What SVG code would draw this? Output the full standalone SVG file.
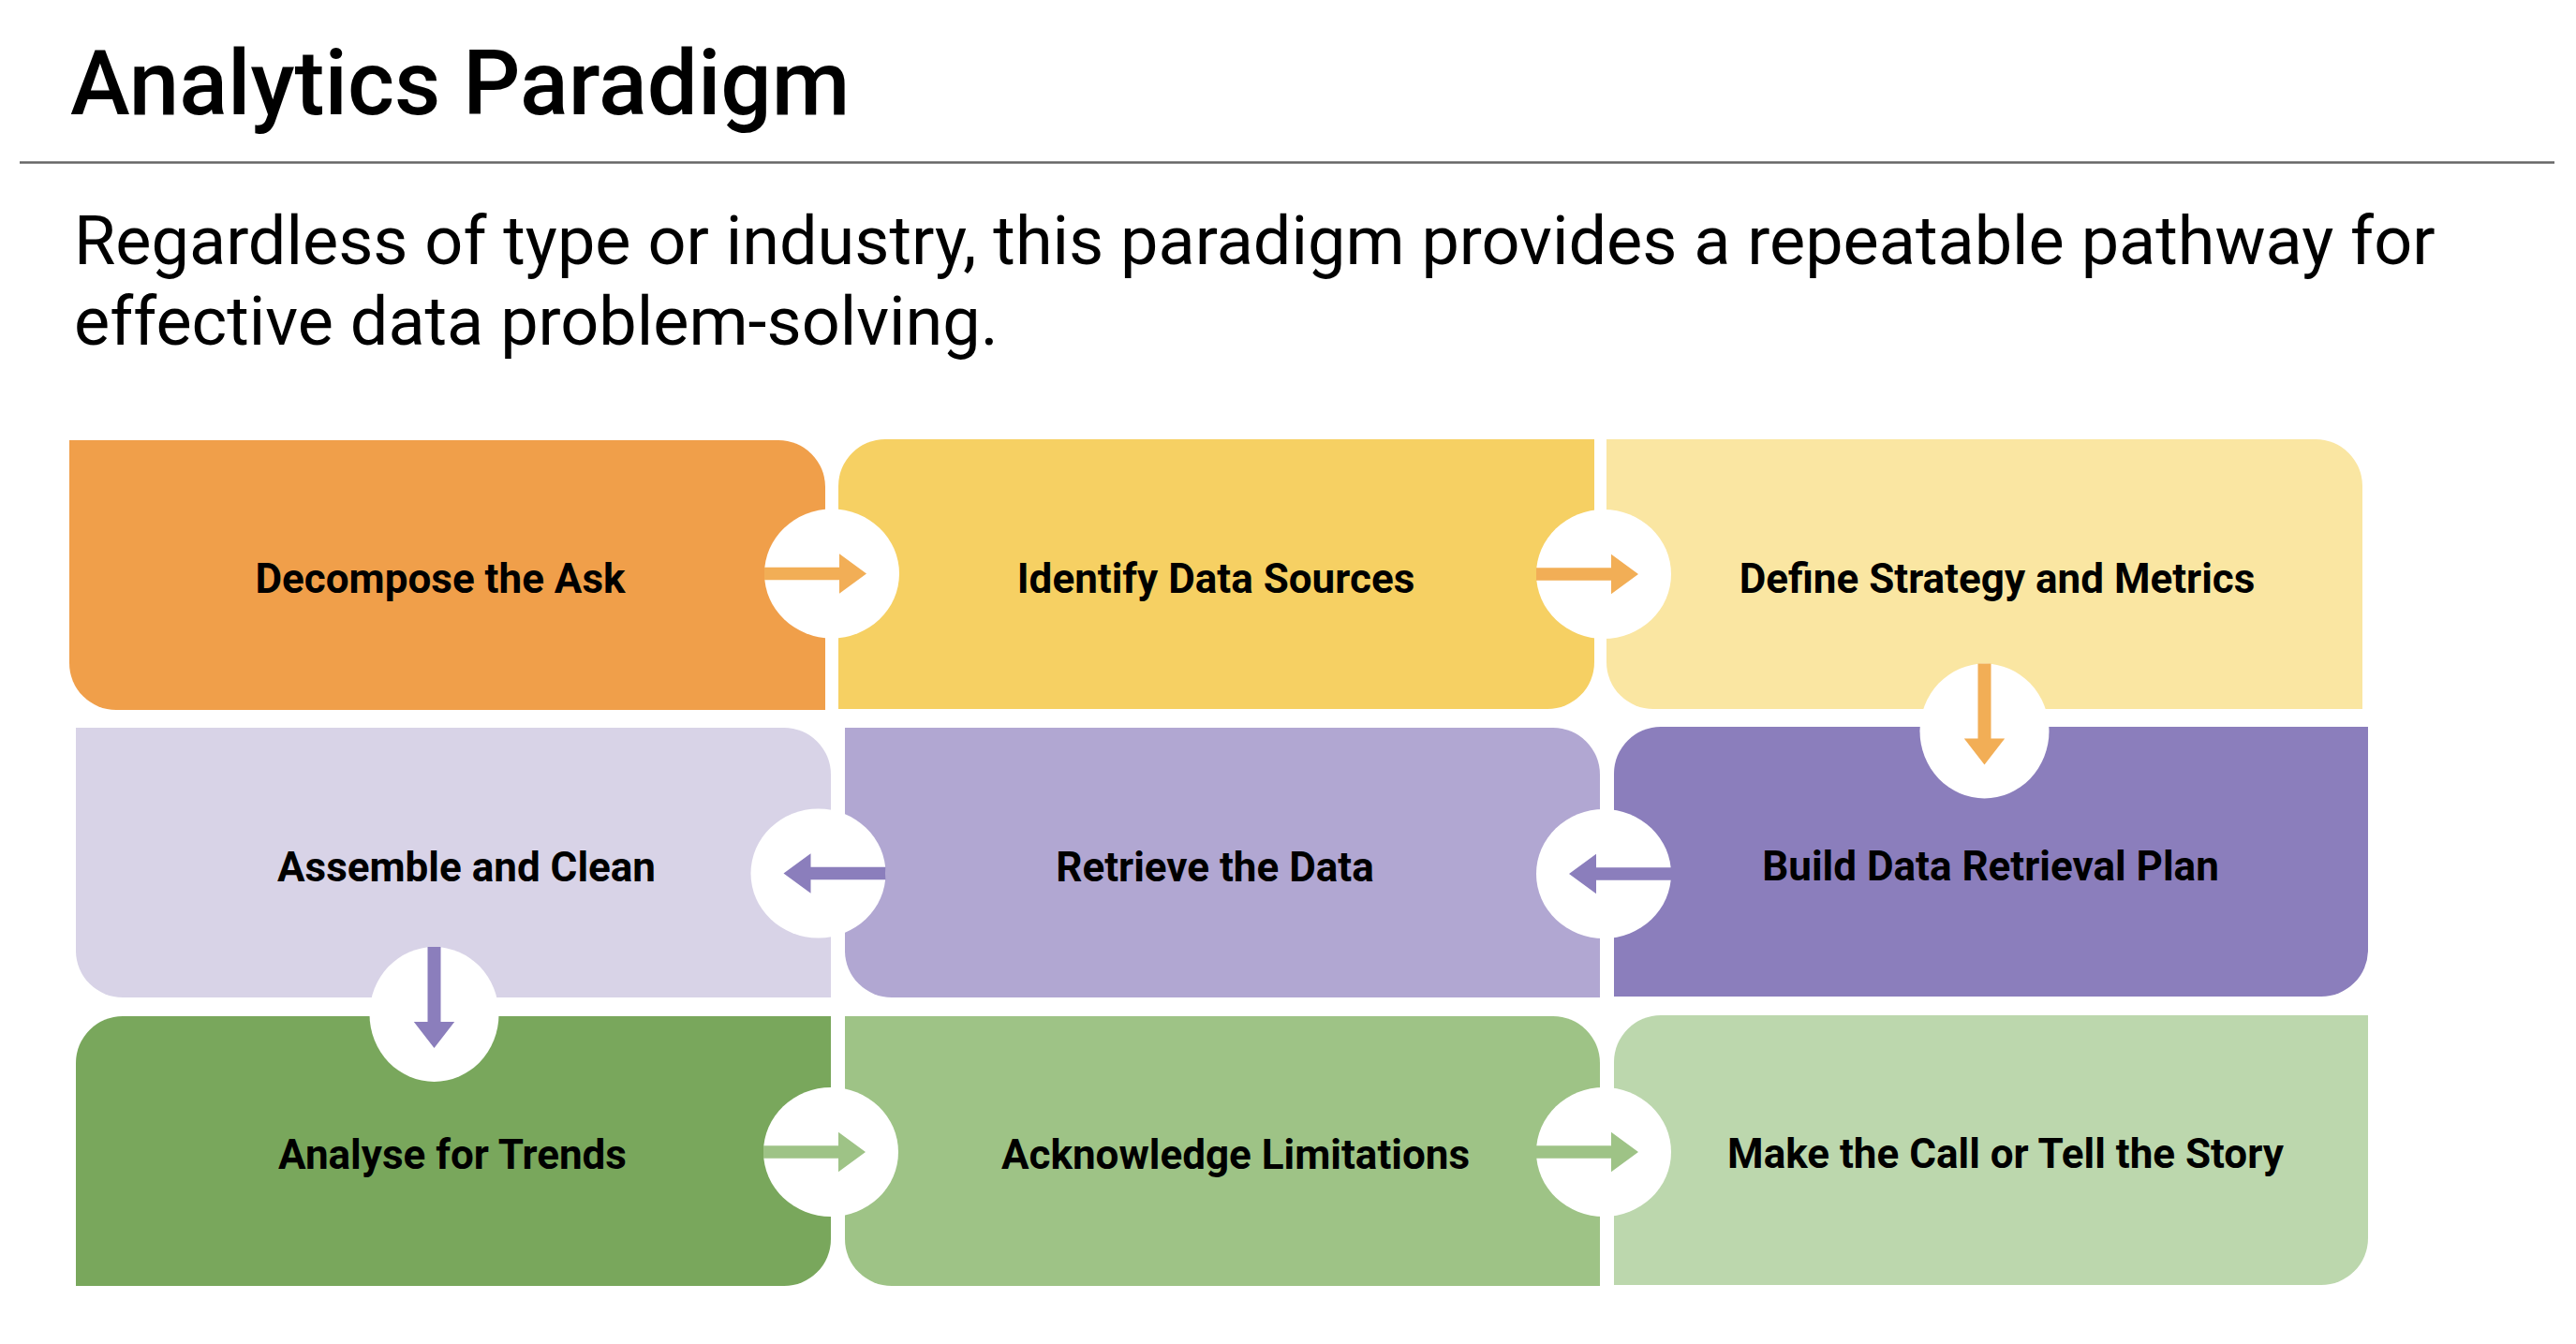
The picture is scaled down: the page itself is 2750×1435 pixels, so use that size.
<svg xmlns="http://www.w3.org/2000/svg" width="2750" height="1435" viewBox="0 0 2750 1435">
<style>
.title{font-family:Roboto,"Liberation Sans",sans-serif;font-weight:500;font-size:96px;fill:#000}
.sub{font-family:Roboto,"Liberation Sans",sans-serif;font-weight:400;font-size:72px;fill:#000}
.lbl{font-family:Roboto,"Liberation Sans",sans-serif;font-weight:700;font-size:44px;fill:#000;text-anchor:middle}
.hole{fill:#fff}
.ao{fill:#F2AE56}
.ap{fill:#8B7EBC}
.ag{fill:#9EC386}
</style>
<defs>
<path id="arR" d="M-72,-6.7 H8 V-21.3 L37,0 L8,21.3 V6.7 H-72 Z"/>
<path id="arL" d="M72,-6.7 H-8 V-21.3 L-37,0 L-8,21.3 V6.7 H72 Z"/>
<path id="arD" d="M-7,-72 V8 H-21.7 L0,36 L21.7,8 H7 V-72 Z"/>
</defs>
<rect width="2750" height="1435" fill="#fff"/>
<text class="title" x="75" y="122">Analytics Paradigm</text>
<line x1="21" y1="173.5" x2="2727" y2="173.5" stroke="#666" stroke-width="2.5"/>
<text class="sub" x="79" y="282">Regardless of type or industry, this paradigm provides a repeatable pathway for</text>
<text class="sub" x="79" y="368">effective data problem-solving.</text>

<g id="n1"><path fill="#F09F4A" d="M74,470 H831 A50,50 0 0 1 881,520 V758 H124 A50,50 0 0 1 74,708 Z"/><text class="lbl" x="470" y="633">Decompose the Ask</text></g>
<g id="n2"><path fill="#F6D063" d="M945,469 H1702 V707 A50,50 0 0 1 1652,757 H895 V519 A50,50 0 0 1 945,469 Z"/><text class="lbl" x="1298" y="633">Identify Data Sources</text></g>
<g id="n3"><path fill="#FAE6A2" d="M1715,469 H2472 A50,50 0 0 1 2522,519 V757 H1765 A50,50 0 0 1 1715,707 Z"/><text class="lbl" x="2132" y="633">Define Strategy and Metrics</text></g>
<g id="n4"><path fill="#8B7EBC" d="M1773,776 H2528 V1014 A50,50 0 0 1 2478,1064 H1723 V826 A50,50 0 0 1 1773,776 Z"/><text class="lbl" x="2125" y="940">Build Data Retrieval Plan</text></g>
<g id="n5"><path fill="#B1A7D2" d="M902,777 H1658 A50,50 0 0 1 1708,827 V1065 H952 A50,50 0 0 1 902,1015 Z"/><text class="lbl" x="1297" y="941">Retrieve the Data</text></g>
<g id="n6"><path fill="#D8D3E7" d="M81,777 H837 A50,50 0 0 1 887,827 V1065 H131 A50,50 0 0 1 81,1015 Z"/><text class="lbl" x="498" y="941">Assemble and Clean</text></g>
<g id="n7"><path fill="#79A75C" d="M131,1085 H887 V1323 A50,50 0 0 1 837,1373 H81 V1135 A50,50 0 0 1 131,1085 Z"/><text class="lbl" x="483" y="1248">Analyse for Trends</text></g>
<g id="n8"><path fill="#9EC386" d="M902,1085 H1658 A50,50 0 0 1 1708,1135 V1373 H952 A50,50 0 0 1 902,1323 Z"/><text class="lbl" x="1319" y="1248">Acknowledge Limitations</text></g>
<g id="n9"><path fill="#BCD7AD" d="M1773,1084 H2528 V1322 A50,50 0 0 1 2478,1372 H1723 V1134 A50,50 0 0 1 1773,1084 Z"/><text class="lbl" x="2141" y="1247">Make the Call or Tell the Story</text></g>

<g id="connectors">
<g transform="translate(888,612.5)"><ellipse class="hole" rx="72" ry="69"/><use href="#arR" class="ao"/></g>
<g transform="translate(1712,613)"><ellipse class="hole" rx="72" ry="69"/><use href="#arR" class="ao"/></g>
<g transform="translate(2118.5,780.5)"><ellipse class="hole" rx="69" ry="72"/><use href="#arD" class="ao"/></g>
<g transform="translate(1712,933)"><ellipse class="hole" rx="72" ry="69"/><use href="#arL" class="ap"/></g>
<g transform="translate(873.5,932.5)"><ellipse class="hole" rx="72" ry="69"/><use href="#arL" class="ap"/></g>
<g transform="translate(463.5,1083)"><ellipse class="hole" rx="69" ry="72"/><use href="#arD" class="ap"/></g>
<g transform="translate(887,1230)"><ellipse class="hole" rx="72" ry="69"/><use href="#arR" class="ag"/></g>
<g transform="translate(1712,1230)"><ellipse class="hole" rx="72" ry="69"/><use href="#arR" class="ag"/></g>
</g>
</svg>
